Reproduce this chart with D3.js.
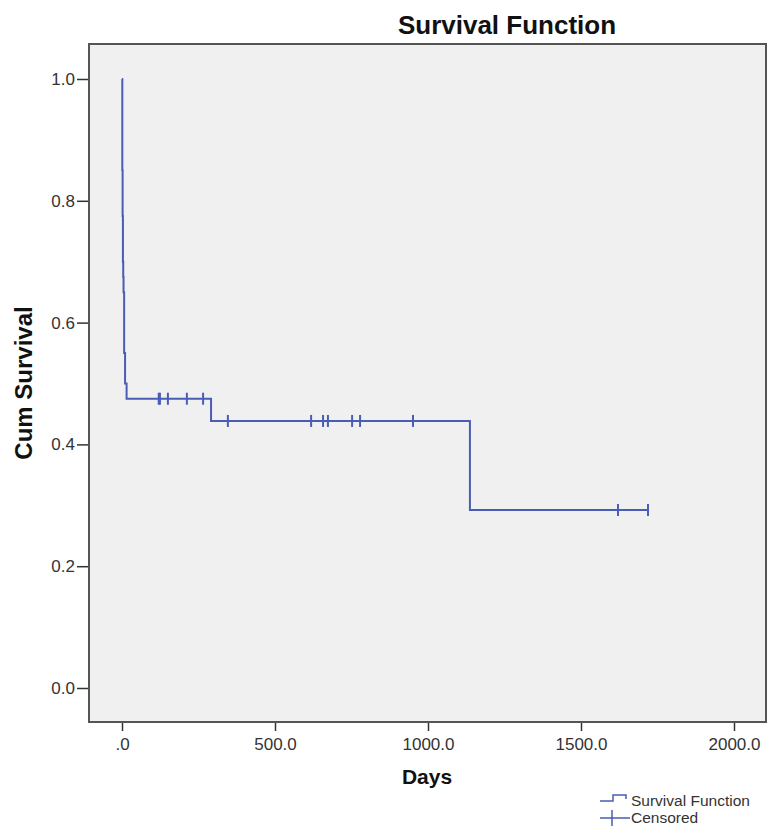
<!DOCTYPE html>
<html>
<head>
<meta charset="utf-8">
<script src="https://cdn.jsdelivr.net/npm/d3@7"></script>
<style>
  html, body { margin: 0; padding: 0; background: #ffffff; }
  svg { display: block; font-family: "Liberation Sans", Arial, sans-serif; }
</style>
</head>
<body>
<svg id="chart" width="771" height="830"></svg>
<script>
// ---- data ----
const stepTimes = [0, 1, 2, 3, 4, 5, 7, 10, 15, 291, 1137];
const stepSurv  = [1.0, 0.85, 0.775, 0.70, 0.675, 0.65, 0.55, 0.50, 0.475, 0.4385, 0.2923];
const endTime = 1719;
const censoredTimes = [120, 124, 150, 212, 265, 346, 618, 657, 673, 752, 778, 951, 1621, 1719];
const xTicks = [0, 500, 1000, 1500, 2000];
const xTickLabels = [".0", "500.0", "1000.0", "1500.0", "2000.0"];
const yTicks = [0, 0.2, 0.4, 0.6, 0.8, 1.0];
const yTickLabels = ["0.0", "0.2", "0.4", "0.6", "0.8", "1.0"];
const legendItems = ["Survival Function", "Censored"];

// ---- layout ----
const frame = { left: 89, right: 766, top: 44, bottom: 722 };
const lineColor = "#4a5db5";

const svg = d3.select("#chart");
const x = d3.scaleLinear().domain([0, 2000]).range([122, 734]);
const y = d3.scaleLinear().domain([0, 1]).range([688, 79]);

// title
svg.append("text").attr("x", 507).attr("y", 34).attr("text-anchor", "middle")
  .attr("font-size", 26).attr("font-weight", "bold").attr("fill", "#111")
  .text("Survival Function");

// plot background
svg.append("rect").attr("x", frame.left).attr("y", frame.top)
  .attr("width", frame.right - frame.left).attr("height", frame.bottom - frame.top)
  .attr("fill", "#f0f0f0");

// axes
const yAxis = d3.axisLeft(y).tickValues(yTicks)
  .tickFormat((d, i) => yTickLabels[i]).tickSize(12).tickPadding(2);
const gy = svg.append("g").attr("transform", `translate(${frame.left},0)`).call(yAxis);
gy.select(".domain").remove();
gy.selectAll(".tick line").attr("stroke", "#333").attr("stroke-width", 1.5);
gy.selectAll(".tick text").attr("font-size", 17).attr("fill", "#333")
  .attr("font-family", "Liberation Sans, Arial, sans-serif");

const xAxis = d3.axisBottom(x).tickValues(xTicks)
  .tickFormat((d, i) => xTickLabels[i]).tickSize(9).tickPadding(7);
const gx = svg.append("g").attr("transform", `translate(0,${frame.bottom})`).call(xAxis);
gx.select(".domain").remove();
gx.selectAll(".tick line").attr("stroke", "#333").attr("stroke-width", 1.5);
gx.selectAll(".tick text").attr("font-size", 17).attr("fill", "#333")
  .attr("font-family", "Liberation Sans, Arial, sans-serif");

// frame
svg.append("rect").attr("x", frame.left).attr("y", frame.top)
  .attr("width", frame.right - frame.left).attr("height", frame.bottom - frame.top)
  .attr("fill", "none").attr("stroke", "#555").attr("stroke-width", 2);

// axis titles
svg.append("text").attr("x", 427).attr("y", 784).attr("text-anchor", "middle")
  .attr("font-size", 21).attr("font-weight", "bold").attr("fill", "#111").text("Days");
svg.append("text").attr("transform", "translate(32,383) rotate(-90)")
  .attr("text-anchor", "middle").attr("font-size", 24).attr("font-weight", "bold")
  .attr("fill", "#111").text("Cum Survival");

// survival step line
const pts = stepTimes.map((t, i) => [t, stepSurv[i]]);
pts.push([endTime, stepSurv[stepSurv.length - 1]]);
const line = d3.line().x(d => x(d[0])).y(d => y(d[1])).curve(d3.curveStepAfter);
svg.append("path").datum(pts).attr("d", line)
  .attr("fill", "none").attr("stroke", lineColor).attr("stroke-width", 2);

// censored marks
function survAt(t) {
  let s = stepSurv[0];
  for (let i = 0; i < stepTimes.length; i++) if (stepTimes[i] <= t) s = stepSurv[i];
  return s;
}
svg.append("g").selectAll("line").data(censoredTimes).join("line")
  .attr("x1", d => x(d)).attr("x2", d => x(d))
  .attr("y1", d => y(survAt(d)) - 6).attr("y2", d => y(survAt(d)) + 6)
  .attr("stroke", lineColor).attr("stroke-width", 2);

// legend
const lg = svg.append("g");
lg.append("path").attr("d", "M600,801 H613 V795 H626 V799")
  .attr("fill", "none").attr("stroke", lineColor).attr("stroke-width", 1.5);
lg.append("line").attr("x1", 600).attr("x2", 630).attr("y1", 818).attr("y2", 818)
  .attr("stroke", lineColor).attr("stroke-width", 1.5);
lg.append("line").attr("x1", 612).attr("x2", 612).attr("y1", 810).attr("y2", 826)
  .attr("stroke", lineColor).attr("stroke-width", 1.5);
lg.selectAll("text").data(legendItems).join("text")
  .attr("x", 631).attr("y", (d, i) => 806 + i * 17)
  .attr("font-size", 15.5).attr("fill", "#333").text(d => d);
</script>
</body>
</html>
